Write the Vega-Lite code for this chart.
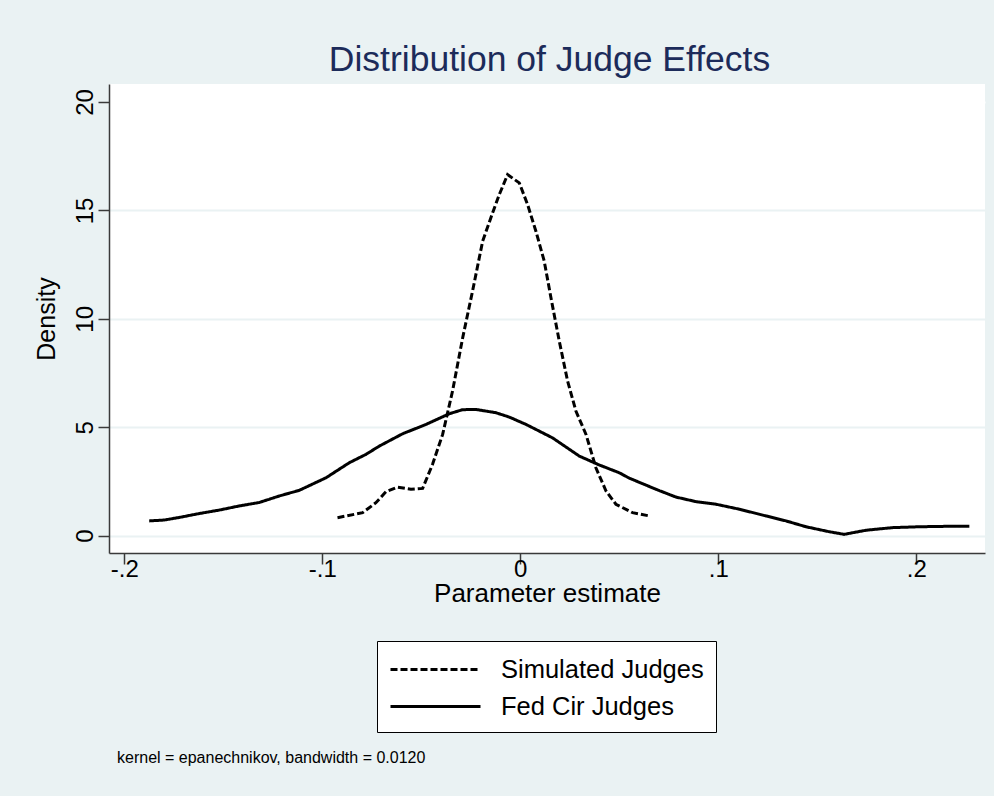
{
  "$schema": "https://vega.github.io/schema/vega-lite/v6.json",
  "background": "#eaf2f3",
  "padding": {"left": 34, "top": 42, "right": 9, "bottom": 47},
  "title": {
    "text": "Distribution of Judge Effects",
    "font": "Liberation Sans",
    "fontSize": 35.5,
    "fontWeight": "normal",
    "color": "#1c2b5a",
    "anchor": "middle",
    "dx": 40,
    "offset": 6
  },
  "bounds": "flush",
  "vconcat": [
    {
      "width": 876,
      "height": 469,
      "title": {
        "text": "kernel = epanechnikov, bandwidth = 0.0120",
        "orient": "bottom",
        "anchor": "start",
        "fontSize": 16,
        "fontWeight": "normal",
        "color": "black",
        "dx": 83,
        "offset": 144
      },
      "data": {
        "values": [
          {"series": "Fed Cir Judges", "x": -0.1874, "d": 0.68},
          {"series": "Fed Cir Judges", "x": -0.1798, "d": 0.72},
          {"series": "Fed Cir Judges", "x": -0.1722, "d": 0.84},
          {"series": "Fed Cir Judges", "x": -0.1621, "d": 1.02},
          {"series": "Fed Cir Judges", "x": -0.1520, "d": 1.18},
          {"series": "Fed Cir Judges", "x": -0.1419, "d": 1.37},
          {"series": "Fed Cir Judges", "x": -0.1318, "d": 1.53},
          {"series": "Fed Cir Judges", "x": -0.1217, "d": 1.83},
          {"series": "Fed Cir Judges", "x": -0.1116, "d": 2.09},
          {"series": "Fed Cir Judges", "x": -0.0981, "d": 2.67},
          {"series": "Fed Cir Judges", "x": -0.0864, "d": 3.36},
          {"series": "Fed Cir Judges", "x": -0.0779, "d": 3.75},
          {"series": "Fed Cir Judges", "x": -0.0712, "d": 4.13},
          {"series": "Fed Cir Judges", "x": -0.0594, "d": 4.70},
          {"series": "Fed Cir Judges", "x": -0.0476, "d": 5.13},
          {"series": "Fed Cir Judges", "x": -0.0359, "d": 5.62},
          {"series": "Fed Cir Judges", "x": -0.0291, "d": 5.81},
          {"series": "Fed Cir Judges", "x": -0.0224, "d": 5.82},
          {"series": "Fed Cir Judges", "x": -0.0123, "d": 5.67},
          {"series": "Fed Cir Judges", "x": -0.0056, "d": 5.47},
          {"series": "Fed Cir Judges", "x": 0.0029, "d": 5.13},
          {"series": "Fed Cir Judges", "x": 0.0163, "d": 4.51},
          {"series": "Fed Cir Judges", "x": 0.0298, "d": 3.67},
          {"series": "Fed Cir Judges", "x": 0.0399, "d": 3.26},
          {"series": "Fed Cir Judges", "x": 0.0500, "d": 2.90},
          {"series": "Fed Cir Judges", "x": 0.0551, "d": 2.65},
          {"series": "Fed Cir Judges", "x": 0.0685, "d": 2.14},
          {"series": "Fed Cir Judges", "x": 0.0786, "d": 1.78},
          {"series": "Fed Cir Judges", "x": 0.0887, "d": 1.57},
          {"series": "Fed Cir Judges", "x": 0.0988, "d": 1.45},
          {"series": "Fed Cir Judges", "x": 0.1106, "d": 1.22},
          {"series": "Fed Cir Judges", "x": 0.1241, "d": 0.91},
          {"series": "Fed Cir Judges", "x": 0.1342, "d": 0.68},
          {"series": "Fed Cir Judges", "x": 0.1443, "d": 0.41},
          {"series": "Fed Cir Judges", "x": 0.1561, "d": 0.18},
          {"series": "Fed Cir Judges", "x": 0.1636, "d": 0.06},
          {"series": "Fed Cir Judges", "x": 0.1746, "d": 0.25},
          {"series": "Fed Cir Judges", "x": 0.1880, "d": 0.37},
          {"series": "Fed Cir Judges", "x": 0.2015, "d": 0.41},
          {"series": "Fed Cir Judges", "x": 0.2150, "d": 0.43},
          {"series": "Fed Cir Judges", "x": 0.2268, "d": 0.43},
          {"series": "Simulated Judges", "x": -0.0923, "d": 0.83},
          {"series": "Simulated Judges", "x": -0.0796, "d": 1.06},
          {"series": "Simulated Judges", "x": -0.0729, "d": 1.52},
          {"series": "Simulated Judges", "x": -0.0678, "d": 2.03},
          {"series": "Simulated Judges", "x": -0.0620, "d": 2.24},
          {"series": "Simulated Judges", "x": -0.0552, "d": 2.14},
          {"series": "Simulated Judges", "x": -0.0493, "d": 2.18},
          {"series": "Simulated Judges", "x": -0.0443, "d": 3.29},
          {"series": "Simulated Judges", "x": -0.0392, "d": 4.67},
          {"series": "Simulated Judges", "x": -0.0342, "d": 6.67},
          {"series": "Simulated Judges", "x": -0.0291, "d": 9.12},
          {"series": "Simulated Judges", "x": -0.0241, "d": 11.28},
          {"series": "Simulated Judges", "x": -0.0190, "d": 13.58},
          {"series": "Simulated Judges", "x": -0.0140, "d": 14.88},
          {"series": "Simulated Judges", "x": -0.0106, "d": 15.73},
          {"series": "Simulated Judges", "x": -0.0064, "d": 16.65},
          {"series": "Simulated Judges", "x": -0.0005, "d": 16.27},
          {"series": "Simulated Judges", "x": 0.0037, "d": 15.27},
          {"series": "Simulated Judges", "x": 0.0079, "d": 14.04},
          {"series": "Simulated Judges", "x": 0.0121, "d": 12.66},
          {"series": "Simulated Judges", "x": 0.0155, "d": 10.97},
          {"series": "Simulated Judges", "x": 0.0197, "d": 8.97},
          {"series": "Simulated Judges", "x": 0.0239, "d": 7.13},
          {"series": "Simulated Judges", "x": 0.0281, "d": 5.75},
          {"series": "Simulated Judges", "x": 0.0332, "d": 4.67},
          {"series": "Simulated Judges", "x": 0.0382, "d": 3.13},
          {"series": "Simulated Judges", "x": 0.0433, "d": 2.06},
          {"series": "Simulated Judges", "x": 0.0483, "d": 1.45},
          {"series": "Simulated Judges", "x": 0.0567, "d": 1.06},
          {"series": "Simulated Judges", "x": 0.0652, "d": 0.91}
        ]
      },
      "mark": {"type": "line", "color": "black", "strokeWidth": 3, "clip": true},
      "encoding": {
        "x": {
          "field": "x",
          "type": "quantitative",
          "scale": {"domain": [-0.2077, 0.2347], "nice": false, "zero": false},
          "axis": {
            "values": [-0.2, -0.1, 0, 0.1, 0.2],
            "labelExpr": "datum.value == 0 ? '0' : (datum.value < 0 ? '-' : '') + replace(format(abs(datum.value), '.1f'), '0.', '.')",
            "labelOverlap": false,
            "grid": false,
            "title": "Parameter estimate",
            "titleFontSize": 26,
            "labelPadding": -7,
            "titlePadding": -1
          }
        },
        "y": {
          "field": "d",
          "type": "quantitative",
          "scale": {"domain": [-0.8, 20.83], "nice": false, "zero": false},
          "axis": {
            "values": [0, 5, 10, 15, 20],
            "grid": true,
            "gridColor": {"condition": {"test": "datum.value == 20", "value": "white"}, "value": "#eaf2f3"},
            "gridWidth": 2,
            "labelAngle": -90,
            "labelPadding": 1,
            "title": "Density",
            "titlePadding": 14
          }
        },
        "strokeDash": {
          "field": "series",
          "type": "nominal",
          "scale": {"domain": ["Simulated Judges", "Fed Cir Judges"], "range": [[7, 3], [1, 0]]},
          "legend": {
            "orient": "none",
            "legendX": 268,
            "legendY": 557,
            "title": null,
            "symbolType": "M-1,0H5",
            "symbolSize": 900,
            "symbolStrokeWidth": 3,
            "symbolStrokeColor": "black",
            "labelFontSize": 25.5,
            "labelColor": "black",
            "labelOffset": 79,
            "labelLimit": 400,
            "padding": 12,
            "rowPadding": 7,
            "strokeColor": "black",
            "fillColor": "white"
          }
        }
      }
    }
  ],
  "config": {
    "font": "Liberation Sans",
    "view": {"fill": "white", "stroke": null},
    "axis": {
      "domainColor": "#3a3a3a",
      "tickColor": "#3a3a3a",
      "domainWidth": 1.5,
      "tickWidth": 1.5,
      "tickSize": 11,
      "labelColor": "black",
      "titleColor": "black",
      "labelFontSize": 24,
      "titleFontSize": 25,
      "titleFontWeight": "normal"
    }
  }
}
